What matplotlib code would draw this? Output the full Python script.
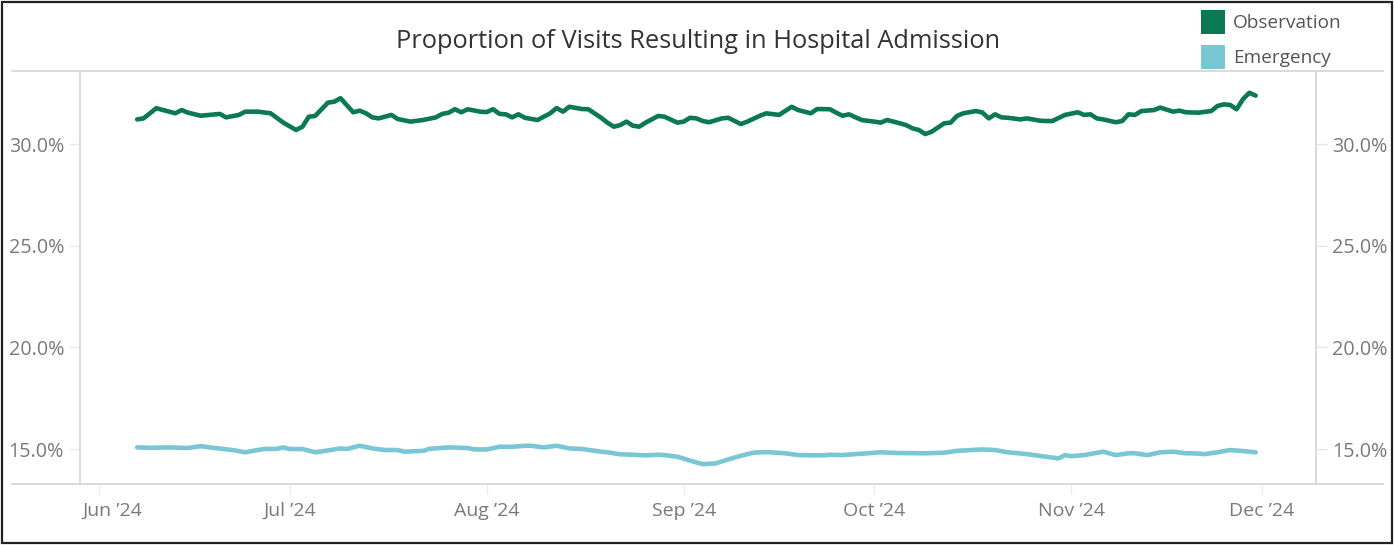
import matplotlib.pyplot as plt
from matplotlib.lines import Line2D
from matplotlib.patches import Rectangle
from matplotlib.transforms import ScaledTranslation
import pandas as pd

plt.rcParams['font.family'] = ['Open Sans', 'DejaVu Sans']

# Observation series (vertices)
obs_dates = ['2024-06-07', '2024-06-08', '2024-06-10', '2024-06-12', '2024-06-13', '2024-06-14',
             '2024-06-15', '2024-06-17', '2024-06-20', '2024-06-21', '2024-06-23', '2024-06-24',
             '2024-06-26', '2024-06-28', '2024-06-30', '2024-07-02', '2024-07-03', '2024-07-04',
             '2024-07-05', '2024-07-07', '2024-07-08', '2024-07-09', '2024-07-11', '2024-07-12',
             '2024-07-13', '2024-07-14', '2024-07-15', '2024-07-17', '2024-07-18', '2024-07-20',
             '2024-07-22', '2024-07-24', '2024-07-25', '2024-07-26', '2024-07-27', '2024-07-28',
             '2024-07-29', '2024-07-31', '2024-08-01', '2024-08-02', '2024-08-03', '2024-08-04',
             '2024-08-05', '2024-08-06', '2024-08-07', '2024-08-09', '2024-08-11', '2024-08-12',
             '2024-08-13', '2024-08-14', '2024-08-16', '2024-08-17', '2024-08-19', '2024-08-20',
             '2024-08-21', '2024-08-22', '2024-08-23', '2024-08-24', '2024-08-25', '2024-08-26',
             '2024-08-28', '2024-08-29', '2024-08-31', '2024-09-01', '2024-09-02', '2024-09-03',
             '2024-09-04', '2024-09-05', '2024-09-07', '2024-09-08', '2024-09-10', '2024-09-11',
             '2024-09-13', '2024-09-14', '2024-09-16', '2024-09-18', '2024-09-19', '2024-09-21',
             '2024-09-22', '2024-09-24', '2024-09-25', '2024-09-26', '2024-09-27', '2024-09-29',
             '2024-10-01', '2024-10-02', '2024-10-03', '2024-10-05', '2024-10-06', '2024-10-07',
             '2024-10-08', '2024-10-09', '2024-10-10', '2024-10-12', '2024-10-13', '2024-10-14',
             '2024-10-15', '2024-10-17', '2024-10-18', '2024-10-19', '2024-10-20', '2024-10-21',
             '2024-10-22', '2024-10-24', '2024-10-25', '2024-10-27', '2024-10-28', '2024-10-29',
             '2024-10-31', '2024-11-02', '2024-11-03', '2024-11-04', '2024-11-05', '2024-11-06',
             '2024-11-08', '2024-11-09', '2024-11-10', '2024-11-11', '2024-11-12', '2024-11-14',
             '2024-11-15', '2024-11-17', '2024-11-18', '2024-11-19', '2024-11-21', '2024-11-23',
             '2024-11-24', '2024-11-25', '2024-11-26', '2024-11-27', '2024-11-28', '2024-11-29',
             '2024-11-30']
obs_values = [31.21, 31.26, 31.76, 31.59, 31.51, 31.67,
              31.54, 31.39, 31.48, 31.31, 31.43, 31.59,
              31.59, 31.51, 31.05, 30.69, 30.85, 31.34,
              31.38, 32.03, 32.08, 32.25, 31.56, 31.64,
              31.51, 31.31, 31.26, 31.43, 31.23, 31.10,
              31.18, 31.31, 31.48, 31.54, 31.71, 31.56,
              31.71, 31.59, 31.57, 31.71, 31.48, 31.46,
              31.31, 31.46, 31.29, 31.18, 31.51, 31.77,
              31.59, 31.83, 31.72, 31.71, 31.29, 31.05,
              30.85, 30.93, 31.10, 30.90, 30.85, 31.05,
              31.38, 31.34, 31.05, 31.10, 31.29, 31.26,
              31.13, 31.07, 31.26, 31.29, 30.98, 31.10,
              31.39, 31.51, 31.43, 31.83, 31.67, 31.51,
              31.72, 31.71, 31.54, 31.39, 31.46, 31.18,
              31.10, 31.05, 31.18, 31.02, 30.93, 30.77,
              30.69, 30.49, 30.60, 31.02, 31.05, 31.38,
              31.51, 31.62, 31.55, 31.26, 31.46, 31.31,
              31.29, 31.21, 31.26, 31.15, 31.13, 31.13,
              31.43, 31.56, 31.43, 31.46, 31.26, 31.21,
              31.07, 31.13, 31.46, 31.43, 31.62, 31.67,
              31.79, 31.59, 31.64, 31.56, 31.54, 31.62,
              31.87, 31.95, 31.92, 31.71, 32.20, 32.52,
              32.38]

# Emergency series
emg_dates = ['2024-06-07', '2024-06-09', '2024-06-12', '2024-06-15', '2024-06-17', '2024-06-19',
             '2024-06-22', '2024-06-24', '2024-06-25', '2024-06-27', '2024-06-29', '2024-06-30',
             '2024-07-01', '2024-07-03', '2024-07-05', '2024-07-06', '2024-07-09', '2024-07-10',
             '2024-07-12', '2024-07-14', '2024-07-16', '2024-07-18', '2024-07-19', '2024-07-22',
             '2024-07-23', '2024-07-26', '2024-07-29', '2024-07-30', '2024-08-01', '2024-08-03',
             '2024-08-05', '2024-08-07', '2024-08-08', '2024-08-10', '2024-08-12', '2024-08-14',
             '2024-08-16', '2024-08-19', '2024-08-20', '2024-08-22', '2024-08-24', '2024-08-26',
             '2024-08-28', '2024-08-29', '2024-08-31', '2024-09-01', '2024-09-03', '2024-09-04',
             '2024-09-06', '2024-09-08', '2024-09-10', '2024-09-12', '2024-09-14', '2024-09-17',
             '2024-09-19', '2024-09-23', '2024-09-24', '2024-09-26', '2024-09-28', '2024-09-30',
             '2024-10-02', '2024-10-05', '2024-10-07', '2024-10-09', '2024-10-12', '2024-10-14',
             '2024-10-18', '2024-10-20', '2024-10-22', '2024-10-25', '2024-10-28', '2024-10-30',
             '2024-10-31', '2024-11-01', '2024-11-03', '2024-11-06', '2024-11-08', '2024-11-10',
             '2024-11-11', '2024-11-13', '2024-11-15', '2024-11-17', '2024-11-19', '2024-11-20',
             '2024-11-22', '2024-11-24', '2024-11-26', '2024-11-28', '2024-11-30']
emg_values = [15.08, 15.06, 15.08, 15.05, 15.14, 15.06,
              14.95, 14.84, 14.90, 15.00, 15.01, 15.08,
              15.00, 15.00, 14.84, 14.88, 15.03, 15.00,
              15.16, 15.03, 14.95, 14.95, 14.87, 14.91,
              15.01, 15.08, 15.05, 14.98, 14.98, 15.11,
              15.11, 15.16, 15.16, 15.08, 15.16, 15.03,
              15.00, 14.87, 14.84, 14.74, 14.72, 14.69,
              14.72, 14.70, 14.62, 14.53, 14.34, 14.26,
              14.29, 14.49, 14.67, 14.82, 14.85, 14.79,
              14.70, 14.69, 14.72, 14.70, 14.75, 14.79,
              14.84, 14.80, 14.80, 14.79, 14.82, 14.91,
              14.98, 14.95, 14.84, 14.75, 14.62, 14.54,
              14.70, 14.65, 14.70, 14.87, 14.70, 14.79,
              14.79, 14.70, 14.84, 14.87, 14.79, 14.79,
              14.75, 14.84, 14.95, 14.90, 14.84]

month_ticks = ['2024-06-01', '2024-07-01', '2024-08-01', '2024-09-01', '2024-10-01', '2024-11-01', '2024-12-01']
month_labels = ['Jun \u201924', 'Jul \u201924', 'Aug \u201924', 'Sep \u201924', 'Oct \u201924', 'Nov \u201924', 'Dec \u201924']
y_ticks = [15, 20, 25, 30]

green = '#0B7A53'
blue = '#79C6D5'
grid = '#D4D4D4'
label_col = '#7A7A7A'

fig = plt.figure(figsize=(13.94, 5.45), dpi=100)
ax = fig.add_axes([80 / 1394, 61 / 545, 1236 / 1394, 413 / 545])

ax.plot(pd.to_datetime(emg_dates), emg_values, color=blue, lw=3.3, solid_joinstyle='round', solid_capstyle='round')
ax.plot(pd.to_datetime(obs_dates), obs_values, color=green, lw=3.3, solid_joinstyle='round', solid_capstyle='round')

ax.set_xlim(pd.Timestamp('2024-05-29'), pd.Timestamp('2024-12-09 12:00'))
ax.set_ylim(13.28, 33.59)

ax.set_yticks(y_ticks)
ax.set_yticklabels([f'{v:.1f}%' for v in y_ticks])
ax.set_xticks(pd.to_datetime(month_ticks))
ax.set_xticklabels(month_labels)

for side in ['top', 'bottom']:
    ax.spines[side].set_visible(False)
for side in ['left', 'right']:
    ax.spines[side].set_color(grid)
    ax.spines[side].set_linewidth(1.2)

ax.tick_params(axis='y', which='both', left=True, right=True, labelleft=True, labelright=True,
               length=8, color='#E6E6E6', width=1, labelsize=14.2, labelcolor=label_col, pad=3.5)
ax.tick_params(axis='x', length=7, color='#EBEBEB', width=1, labelsize=14, labelcolor=label_col, pad=6)

# first month label sits a little right of its tick, as in the original
first = ax.get_xticklabels()[0]
first.set_transform(first.get_transform() + ScaledTranslation(13 / 100, 0, fig.dpi_scale_trans))

# full-width horizontal rules at top and bottom of the plot
for yy in [(545 - 71) / 545, 61 / 545]:
    fig.add_artist(Line2D([12 / 1394, 1383 / 1394], [yy, yy], color=grid, lw=1.2))

fig.text(698 / 1394, 1 - 41 / 545, 'Proportion of Visits Resulting in Hospital Admission',
         ha='center', va='center', fontsize=18.3, color='#333333')

# legend squares
for i, (name, col) in enumerate([('Observation', green), ('Emergency', blue)]):
    yc = 22 + i * 35
    fig.add_artist(Rectangle((1201 / 1394, 1 - (yc + 12) / 545), 24 / 1394, 24 / 545,
                             transform=fig.transFigure, facecolor=col, edgecolor='none'))
    fig.text(1233 / 1394, 1 - (yc + 1) / 545, name, ha='left', va='center', fontsize=13.7, color='#555555')

# outer frame
fig.add_artist(Rectangle((2 / 1394, 2 / 545), 1390 / 1394, 541 / 545, transform=fig.transFigure,
                         facecolor='none', edgecolor='#222222', lw=1.6))

fig.savefig('out.png', dpi=100)
